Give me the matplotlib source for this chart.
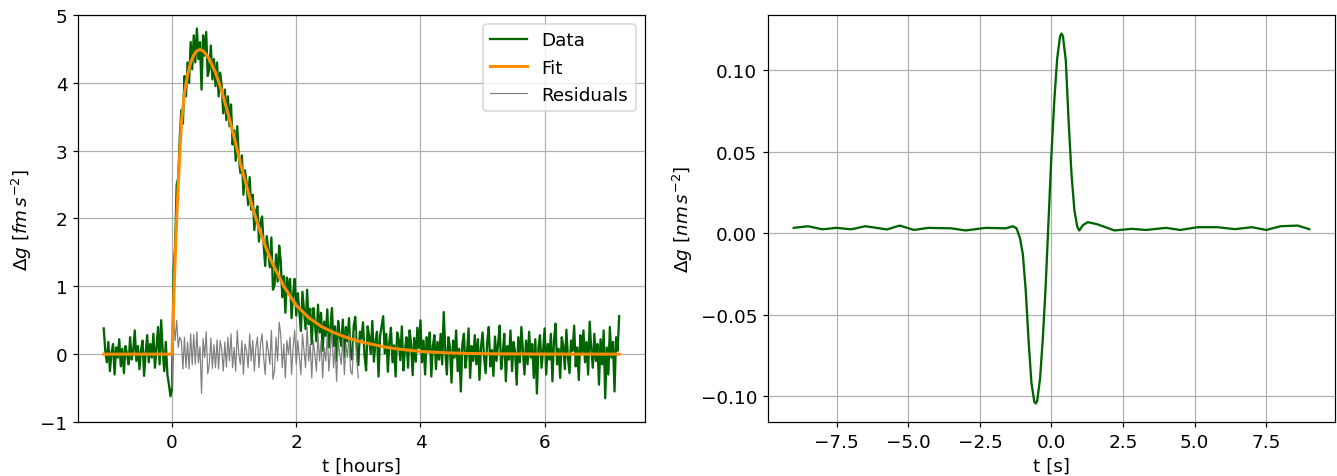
import numpy as np
import matplotlib
matplotlib.use("Agg")
import matplotlib.pyplot as plt

plt.rcParams["font.size"] = 12

# --- left panel: hourly record, fit and residuals ---
t_hours = np.linspace(-1.1, 7.2, 333)
data_hours = [
    0.38, 0.05, -0.12, 0.18, -0.25, 0.02, 0.15, -0.30, 0.10, -0.05, 0.22, -0.18, 0.08, -0.28, 0.12, 0.00, -0.15, 0.25, -0.08, 0.05,
    0.35, -0.10, 0.12, -0.22, 0.06, 0.20, -0.32, 0.02, 0.28, -0.12, 0.15, -0.05, 0.30, -0.20, 0.10, 0.40, -0.15, 0.50, 0.05, -0.25,
    0.18, -0.30, -0.45, -0.62, -0.50, 1.25, 1.60, 2.50, 2.60, 3.20, 3.60, 3.40, 4.10, 3.80, 4.30, 4.00, 4.60, 4.20, 4.70, 4.30,
    4.80, 4.35, 4.60, 3.90, 4.70, 4.40, 4.75, 4.10, 4.20, 4.55, 4.05, 4.35, 3.95, 4.30, 3.80, 4.15, 3.95, 3.55, 3.90, 3.45,
    3.80, 3.36, 3.68, 3.09, 3.30, 2.85, 3.36, 2.91, 2.67, 2.93, 2.35, 2.71, 2.53, 2.20, 2.61, 2.13, 2.35, 1.83, 2.10, 2.18,
    1.66, 1.94, 2.03, 1.61, 1.30, 1.74, 1.53, 1.28, 1.72, 0.95, 1.02, 1.47, 1.07, 1.60, 1.38, 0.84, 1.15, 0.61, 1.13, 0.89,
    1.11, 0.53, 0.89, 1.11, 0.57, 0.90, 0.62, 0.34, 0.92, 0.64, 0.37, 0.95, 0.44, 0.67, 0.15, 0.68, 0.46, 0.19, 0.73, 0.32,
    0.61, 0.05, 0.48, 0.27, 0.66, 0.10, 0.39, 0.68, 0.12, 0.41, -0.10, 0.49, 0.28, 0.12, 0.51, -0.04, 0.40, 0.19, 0.53, -0.02,
    -0.08, 0.41, 0.55, 0.10, -0.16, 0.33, 0.23, 0.47, -0.03, -0.24, 0.41, 0.25, 0.00, 0.49, -0.11, 0.18, 0.33, -0.33, 0.27, 0.41,
    0.56, 0.01, 0.30, -0.26, 0.19, 0.39, -0.12, 0.13, -0.33, 0.32, 0.22, -0.09, 0.41, -0.24, 0.06, 0.25, -0.20, 0.35, 0.15, -0.31,
    0.24, -0.11, 0.39, 0.09, 0.50, -0.12, 0.20, -0.30, 0.25, 0.05, 0.32, -0.33, 0.12, 0.28, -0.22, 0.18, -0.08, 0.30, -0.15, 0.62,
    0.05, -0.30, 0.25, 0.10, -0.42, 0.20, -0.05, 0.35, -0.25, 0.08, -0.55, 0.15, 0.30, -0.20, 0.02, 0.38, -0.35, 0.12, -0.10, 0.28,
    -0.15, 0.22, -0.38, 0.10, 0.32, -0.05, -0.28, 0.18, 0.40, -0.18, 0.06, -0.32, 0.26, -0.10, 0.15, 0.42, -0.22, 0.00, 0.30, -0.40,
    0.12, -0.08, 0.35, -0.25, 0.18, 0.02, -0.45, 0.25, -0.12, 0.40, 0.05, -0.30, 0.20, -0.15, 0.33, -0.05, 0.15, -0.35, 0.22, -0.58,
    0.10, 0.28, -0.20, 0.05, 0.38, -0.30, 0.15, -0.08, 0.30, -0.40, 0.20, 0.45, -0.15, 0.08, -0.35, 0.25, 0.12, -0.22, 0.36, -0.05,
    -0.28, 0.20, 0.05, 0.42, -0.18, 0.10, -0.38, 0.28, 0.00, 0.35, -0.12, 0.18, -0.30, 0.48, 0.08, -0.20, 0.30, -0.10, 0.15, -0.45,
    0.22, -0.15, 0.35, -0.65, 0.10, -0.30, 0.40, -0.05, 0.18, -0.55, 0.25, 0.05, 0.56,
]

fit_t = [-1.1, 0.0, 0.025, 0.05, 0.075, 0.1, 0.125, 0.15, 0.2, 0.25, 0.3, 0.35, 0.4, 0.45, 0.5, 0.55,
         0.6, 0.7, 0.8, 0.9, 1.0, 1.1, 1.2, 1.3, 1.4, 1.5, 1.6, 1.8, 2.0, 2.2, 2.4, 2.6, 2.8,
         3.0, 3.2, 3.4, 3.6, 3.8, 4.0, 4.4, 4.8, 5.2, 6.0, 7.2]
fit_vals = [0.0, 0.0, 0.72, 1.40, 2.00, 2.50, 2.95, 3.40, 3.85, 4.12, 4.30, 4.41, 4.47, 4.49, 4.47, 4.42,
            4.35, 4.15, 3.88, 3.55, 3.20, 2.82, 2.48, 2.15, 1.86, 1.60, 1.37, 1.00, 0.72, 0.54, 0.41, 0.32, 0.25,
            0.19, 0.15, 0.11, 0.08, 0.06, 0.04, 0.02, 0.01, 0.005, 0.001, 0.0]

t_resid = np.linspace(0.0, 3.0, 121)
residuals = [
    -0.50, 0.53, 0.20, 0.50, 0.10, 0.25, 0.20, -0.22, 0.25, -0.20, 0.18, -0.22, 0.30, -0.16, 0.29, -0.15,
    0.33, -0.13, 0.11, -0.58, 0.23, -0.05, 0.33, -0.29, -0.15, 0.24, -0.21, 0.14, -0.20, 0.21, -0.22, 0.20, 0.07, -0.25, 0.18, -0.19,
    0.25, -0.10, 0.30, -0.20, 0.10, -0.25, 0.35, 0.00, -0.15, 0.20, -0.30, 0.15, 0.05, -0.20, 0.30, -0.10, 0.20, -0.25, 0.10, 0.25,
    -0.20, 0.15, 0.30, -0.05, -0.30, 0.20, 0.05, -0.15, 0.35, -0.37, -0.25, 0.25, -0.10, 0.47, 0.30, -0.20, 0.15, -0.35, 0.20, 0.00,
    0.25, -0.30, 0.10, 0.35, -0.15, 0.20, -0.05, -0.30, 0.30, 0.05, -0.20, 0.40, -0.10, 0.15, -0.35, 0.20, 0.00, -0.25, 0.30, -0.10,
    0.20, -0.35, 0.10, -0.10, 0.30, -0.25, 0.05, 0.35, -0.20, 0.10, -0.40, 0.20, 0.00, -0.15, 0.25, -0.30, 0.15, -0.05, 0.30, -0.25,
    -0.30, 0.20, 0.35, -0.10, -0.35,
]

# --- right panel: short pulse in seconds ---
t_sec = [-9.0, -8.5, -8.0, -7.5, -7.0, -6.5, -6.0, -5.75, -5.3, -4.8, -4.3, -3.5, -3.0, -2.3, -1.6,
         -1.35, -1.22, -1.1, -1.0, -0.9, -0.8, -0.7, -0.6, -0.55, -0.5, -0.4, -0.3, -0.2, -0.1,
         0.0, 0.1, 0.2, 0.3, 0.35, 0.4, 0.5, 0.6, 0.7, 0.8, 0.9, 0.97, 1.1, 1.27, 1.6, 2.2,
         2.8, 3.3, 4.0, 4.5, 5.1, 5.8, 6.4, 7.0, 7.5, 8.0, 8.6, 9.0]
pulse = [0.0033, 0.0043, 0.0024, 0.0033, 0.0024, 0.0043, 0.0030, 0.0023, 0.0047, 0.0020, 0.0033, 0.0030, 0.0017, 0.0033, 0.0030,
         0.0043, 0.0030, -0.0030, -0.0130, -0.0350, -0.0660, -0.0920, -0.1035, -0.1046, -0.1030, -0.0894, -0.0640, -0.0310, 0.0090,
         0.0490, 0.0820, 0.1076, 0.1210, 0.1227, 0.1210, 0.1060, 0.0680, 0.0360, 0.0140, 0.0040, 0.0017, 0.0050, 0.0068, 0.0055, 0.0017,
         0.0027, 0.0020, 0.0033, 0.0020, 0.0037, 0.0037, 0.0025, 0.0037, 0.0020, 0.0043, 0.0047, 0.0025]

dpi = 110
fig, (ax1, ax2) = plt.subplots(1, 2, figsize=(1337 / dpi, 477 / dpi), dpi=dpi)
fig.subplots_adjust(left=0.0583, right=0.9985, bottom=0.1132, top=0.9665, wspace=0.217)

ax1.plot(t_hours, data_hours, color="darkgreen", lw=1.5, label="Data")
ax1.plot(fit_t, fit_vals, color="darkorange", lw=2, label="Fit", zorder=3)
ax1.plot(t_resid, residuals, color="grey", lw=0.8, label="Residuals")
ax1.set_ylim(-1, 5)
ax1.set_xlabel("t [hours]")
ax1.set_ylabel(r"$\Delta g\ [fm\,s^{-2}]$")
ax1.grid(True)
ax1.legend(loc="upper right")

ax2.plot(t_sec, pulse, color="darkgreen", lw=1.5)
ax2.set_xlabel("t [s]")
ax2.set_ylabel(r"$\Delta g\ [nm\,s^{-2}]$")
ax2.grid(True)

fig.savefig("out.png", dpi=dpi)
